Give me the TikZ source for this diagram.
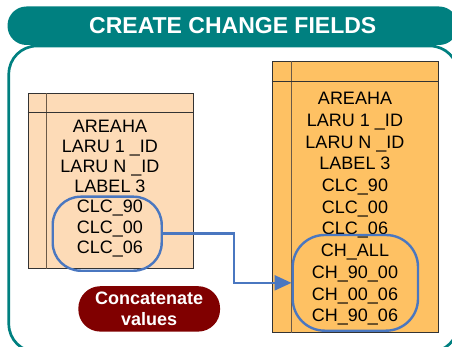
\documentclass[tikz,border=0pt]{standalone}
\usepackage{fontspec}
\setmainfont{Liberation Sans}
\usetikzlibrary{arrows.meta}
\definecolor{hdrteal}{HTML}{008080}
\definecolor{peach}{HTML}{FDDBB7}
\definecolor{lorange}{HTML}{FEC163}
\definecolor{grpblue}{HTML}{4A77C0}
\definecolor{darkred}{HTML}{800000}
\definecolor{tblline}{HTML}{6B5A48}

\begin{document}
\begin{tikzpicture}[x=1pt,y=-1pt,
    tbl/.style={draw=black!80, line width=1pt, inner sep=0pt},
    fld/.style={font=\fontsize{18}{20}\selectfont, inner sep=0pt, text height=13pt, text depth=0pt},
    grp/.style={draw=grpblue, line width=2.4pt, rounded corners=28pt, inner sep=0pt},
    flow/.style={draw=grpblue, line width=2.4pt, -{Triangle[length=17pt,width=15pt]}}]

    \useasboundingbox (0,0) rectangle (452,347);
    \clip (0,0) rectangle (452,347);

    % frame and title
    \draw[hdrteal, line width=2.7pt, rounded corners=28pt] (8.8,46) rectangle (458,352);
    \node[fill=hdrteal, rounded corners=19pt, minimum width=450.5pt, minimum height=38.5pt,
          text=white, font=\fontsize{23}{26}\selectfont\bfseries] (title) at (232.75,25.75) {CREATE CHANGE FIELDS};

    % tables
    \node[tbl, fill=peach, minimum width=165pt, minimum height=174pt] (ltbl) at (110.5,181) {};
    \draw[tblline] ([xshift=19pt]ltbl.north west) -- ([xshift=19pt]ltbl.south west);
    \draw[black!80] ([yshift=-19pt]ltbl.north west) -- ([yshift=-19pt]ltbl.north east);

    \node[tbl, fill=lorange, minimum width=166pt, minimum height=270pt] (rtbl) at (355,197) {};
    \draw[tblline] ([xshift=20pt]rtbl.north west) -- ([xshift=20pt]rtbl.south west);
    \draw[black!80] ([yshift=-20pt]rtbl.north west) -- ([yshift=-20pt]rtbl.north east);

    % fields
    \foreach \f [count=\i] in {AREAHA, LARU 1 \_ID, LARU N \_ID, LABEL 3, CLC\_90, CLC\_00, CLC\_06}
        \node[fld] (lf\i) at (110,125.8+20.15*\i-20.15) {\f};
    \foreach \f [count=\i] in {AREAHA, LARU 1 \_ID, LARU N \_ID, LABEL 3, CLC\_90, CLC\_00, CLC\_06,
                               CH\_ALL, CH\_90\_00, CH\_00\_06, CH\_90\_06}
        \node[fld] (rf\i) at (355,98.3+21.7*\i-21.7) {\f};

    % groups
    \node[grp, minimum width=109pt, minimum height=74pt] (lgrp) at (107.2,233.7) {};
    \node[grp, minimum width=125.3pt, minimum height=95.7pt, rounded corners=32pt] (rgrp) at (355.35,282.85) {};

    % edges
    \draw[flow] (lgrp.east) -- ++(71,0) |- (rgrp.west); % old fields -> change fields

    % note
    \node[fill=darkred, rounded corners=22pt, minimum width=141.7pt, minimum height=45.4pt,
          text=white, align=center, font=\fontsize{18}{20.7}\selectfont\bfseries] (concat) at (149.2,308.9) {Concatenate\\values};

\end{tikzpicture}
\end{document}
